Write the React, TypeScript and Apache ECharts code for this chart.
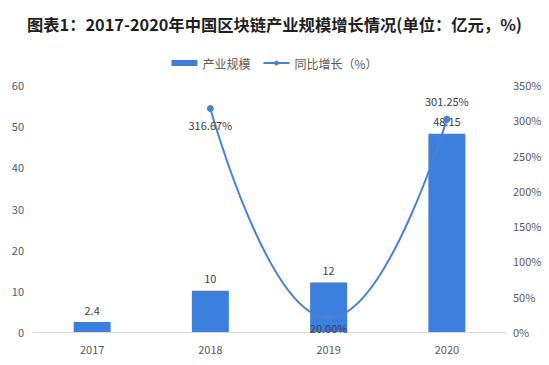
import React, { useEffect, useRef } from "react";
import * as echarts from "echarts";

const titleText = "图表1：2017-2020年中国区块链产业规模增长情况(单位：亿元，%)";
const categories = ["2017", "2018", "2019", "2020"];
const scaleValues = [2.4, 10, 12, 48.15];
const growthValues: (number | null)[] = [null, 316.67, 20.0, 301.25];
const barName = "产业规模";
const lineName = "同比增长（%）";

export default function App() {
  const ref = useRef<HTMLDivElement>(null);
  useEffect(() => {
    if (!ref.current) return;
    const chart = echarts.init(ref.current, null, { renderer: "svg" });
    const font = "'Noto Sans CJK SC', 'Noto Sans', sans-serif";
    chart.setOption({
      animation: false,
      textStyle: { fontFamily: font },
      title: {
        text: titleText,
        left: "center",
        top: 11,
        textStyle: { fontSize: 16.3, fontWeight: "bold", color: "#1f1f1f", fontFamily: font },
      },
      legend: {
        top: 52,
        left: "center",
        itemGap: 12,
        itemWidth: 26,
        itemHeight: 6,
        textStyle: { fontSize: 12, color: "#595959", fontFamily: font },
        data: [
          { name: barName, icon: "rect" },
          { name: lineName },
        ],
      },
      grid: { left: 33, right: 43, top: 85, bottom: 33, containLabel: false },
      xAxis: {
        type: "category",
        data: categories,
        axisLine: { lineStyle: { color: "#d9d9d9" } },
        axisTick: { show: false },
        axisLabel: { color: "#595959", fontSize: 11, margin: 11 },
      },
      yAxis: [
        {
          type: "value",
          min: 0,
          max: 60,
          interval: 10,
          splitLine: { show: false },
          axisLine: { show: false },
          axisTick: { show: false },
          axisLabel: { color: "#595959", fontSize: 11, margin: 9 },
        },
        {
          type: "value",
          min: 0,
          max: 350,
          interval: 50,
          splitLine: { show: false },
          axisLine: { show: false },
          axisTick: { show: false },
          axisLabel: { color: "#595959", fontSize: 11, margin: 7, formatter: "{value}%" },
        },
      ],
      series: [
        {
          name: barName,
          type: "bar",
          data: scaleValues,
          barWidth: 37,
          itemStyle: { color: "#3d7fdc" },
          label: { show: true, position: "top", distance: 7, color: "#404040", fontSize: 11 },
        },
        {
          name: lineName,
          type: "line",
          yAxisIndex: 1,
          smooth: 0.5,
          symbol: "circle",
          symbolSize: 7,
          lineStyle: { color: "#4a80d4", width: 2 },
          itemStyle: { color: "#4a80d4" },
          label: {
            show: true,
            color: "#404040",
            fontSize: 11,
            formatter: (p: any) => p.value.toFixed(2) + "%",
          },
          data: growthValues.map((v, i) =>
            v === null
              ? null
              : {
                  value: v,
                  label: {
                    position: i === 3 ? "top" : "bottom",
                    distance: i === 3 ? 9 : i === 2 ? 1 : 7,
                  },
                }
          ),
        },
      ],
    });
    return () => chart.dispose();
  }, []);
  return <div ref={ref} style={{ width: 549, height: 365, position: "absolute", left: 0, top: 0 }} />;
}
